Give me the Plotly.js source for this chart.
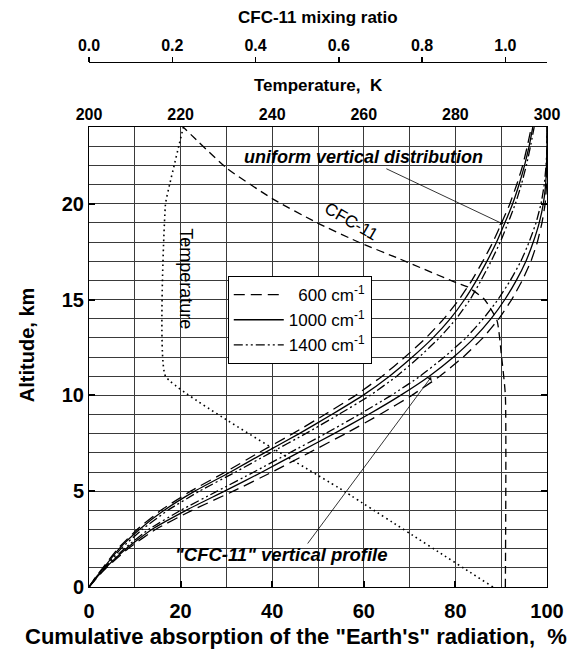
<!DOCTYPE html>
<html>
<head>
<meta charset="utf-8">
<script src="https://cdn.plot.ly/plotly-3.0.1.min.js"></script>
<style>html,body{margin:0;padding:0;background:#fff;}#chart{width:586px;height:657px;}</style>
</head>
<body>
<div id="chart"></div>
<script>
// Altitude grid (km)
const altitude = [0,0.5,1,2,3,4,5,6,7,8,9,10,11,12,13,14,15,16,17,18,19,20,21,22,23,24];
// Cumulative absorption (%) - uniform vertical distribution
const uniform600  = [0,1.4,3,6.3,10.5,15.7,22.2,29.8,37,44.5,51.5,58.2,64,69,73.6,77.5,80.8,83.6,86,88.2,90.1,91.9,93.4,94.7,95.7,96.6];
const uniform1000 = [0,1.5,3.2,6.6,11,16.4,23.1,30.9,38.3,45.9,53,59.8,65.6,70.6,75.1,78.9,82,84.6,86.9,89,90.8,92.5,93.9,95.1,96.1,96.9];
const uniform1400 = [0,1.6,3.4,7,11.6,17.2,24.1,32,39.6,47.3,54.5,61.4,67.2,72.1,76.5,80.2,83.2,85.6,87.8,89.8,91.5,93.1,94.4,95.5,96.4,97.2];
// Cumulative absorption (%) - "CFC-11" vertical profile
const profile600  = [0,1.8,3.8,8.5,14.5,22.5,31.5,40,48,56,63.5,70.5,76.6,81.7,86,89.5,92.3,94.6,96.5,97.9,98.9,99.6,99.9,100,100,100];
const profile1000 = [0,1.7,3.6,8.1,13.7,21.2,29.6,37.8,45.6,53.5,61,68,74.3,79.6,84.1,87.8,90.8,93.3,95.4,97,98.3,99.2,99.7,99.9,100,100];
const profile1400 = [0,1.6,3.5,7.7,13,20,28,36,43.8,51.6,59,66,72.3,77.6,82.3,86.1,89.3,92,94.3,96.1,97.6,98.7,99.4,99.8,100,100];
// Temperature profile
const tempAlt = [0,5,11,20,21,22,23,24];
const tempK   = [288.2,255.7,216.7,216.7,217.6,218.6,219.6,220.6];
// CFC-11 mixing ratio profile
const cfcAlt   = [0,10,12.2,13.9,15,15.65,15.86,17.11,17.96,19.0,20.24,21.85,24];
const cfcRatio = [1.0,1.0,0.99,0.98,0.95,0.91,0.884,0.747,0.651,0.548,0.442,0.331,0.226];
// Labels
const legendNames = ['\u2007600 cm<sup>-1</sup>','1000 cm<sup>-1</sup>','1400 cm<sup>-1</sup>'];

const F = 'Liberation Sans, Arial, sans-serif';
const dashes = ['11px,6px', 'solid', '9px,3px,2px,3px,2px,3px'];
const lw = 1.3;

function curve(x, i, show) {
  return {x: x, y: altitude, type: 'scatter', mode: 'lines', name: legendNames[i],
    showlegend: show, legendrank: i + 1, hoverinfo: 'skip',
    line: {color: '#000', width: lw, dash: dashes[i], shape: 'spline', smoothing: 0.4}};
}

const traces = [
  curve(uniform600, 0, true), curve(uniform1000, 1, true), curve(uniform1400, 2, true),
  curve(profile600, 0, false), curve(profile1000, 1, false), curve(profile1400, 2, false),
  {x: tempK, y: tempAlt, xaxis: 'x2', yaxis: 'y', type: 'scatter', mode: 'lines', showlegend: false,
   hoverinfo: 'skip', line: {color: '#000', width: 1.6, dash: '1.6px,3.4px', shape: 'spline', smoothing: 0.3}},
  {x: cfcRatio, y: cfcAlt, xaxis: 'x3', yaxis: 'y', type: 'scatter', mode: 'lines', showlegend: false,
   hoverinfo: 'skip', line: {color: '#000', width: 1.3, dash: '8px,5px', shape: 'spline', smoothing: 0.5}}
];

const gridC = '#3a3a3a';
const tickFont = {family: F, size: 20, color: '#000', weight: 700};
const topFont = {family: F, size: 16, color: '#000', weight: 700};

function ann(x, y, text, size, opts) {
  return Object.assign({xref: 'paper', yref: 'paper', x: x, y: y, text: text, showarrow: false,
    xanchor: 'center', yanchor: 'middle', font: {family: F, size: size, color: '#000', weight: 700}}, opts || {});
}

const layout = {
  width: 586, height: 657,
  margin: {l: 89, r: 39, t: 50, b: 70},
  paper_bgcolor: '#fff', plot_bgcolor: '#fff',
  showlegend: true,
  legend: {x: 0.303, y: 0.579, xanchor: 'left', yanchor: 'top', bgcolor: '#fff',
    bordercolor: '#000', borderwidth: 1, font: {family: F, size: 17, color: '#000'},
    itemwidth: 50, traceorder: 'normal', tracegroupgap: 0},
  xaxis: {range: [0, 100], dtick: 20, tick0: 0, showgrid: true, gridcolor: gridC, gridwidth: 1,
    minor: {dtick: 10, showgrid: true, gridcolor: gridC, gridwidth: 1, ticks: ''},
    ticks: 'inside', ticklen: 6, tickwidth: 2, tickcolor: '#000', ticklabelstandoff: 6,
    showline: true, linecolor: '#000', linewidth: 1, mirror: true, zeroline: false,
    tickfont: tickFont, fixedrange: true},
  xaxis2: {overlaying: 'x', side: 'top', anchor: 'y', range: [200, 300], dtick: 20, tick0: 200,
    showgrid: false, ticks: '', showline: true, linecolor: '#000', zeroline: false,
    tickfont: topFont, fixedrange: true},
  xaxis3: {overlaying: 'x', side: 'top', anchor: 'free', position: 0.9777, range: [0, 1.1],
    dtick: 0.2, tick0: 0, tickformat: '.1f', showgrid: false, ticks: 'outside', ticklen: 5,
    tickwidth: 1.5, tickcolor: '#000', showline: true, linecolor: '#000', linewidth: 1.5, zeroline: false,
    tickfont: topFont, fixedrange: true},
  yaxis: {domain: [0, 0.8566], range: [0, 24], dtick: 5, tick0: 0, showgrid: true, gridcolor: gridC,
    minor: {dtick: 1, showgrid: true, gridcolor: gridC, gridwidth: 1, ticks: ''},
    ticks: 'inside', ticklen: 6, tickwidth: 2, tickcolor: '#000',
    showline: true, linecolor: '#000', linewidth: 1, mirror: 'ticks', zeroline: false,
    tickfont: tickFont, fixedrange: true},
  annotations: [
    ann(0.5, 1.0596, 'CFC-11 mixing ratio', 17),
    ann(0.5, 0.9330, 'Temperature,  K', 17),
    ann(0.452, -0.093, 'Cumulative absorption of the "Earth\'s" radiation,  %', 22),
    ann(-0.135, 0.4507, 'Altitude, km', 20, {textangle: -90}),
    {xref: 'x', yref: 'y', x: 60.0, y: 22.43, text: '<i>uniform vertical distribution</i>', showarrow: false,
     xanchor: 'center', yanchor: 'middle', font: {family: F, size: 18, color: '#000', weight: 700}},
    {xref: 'x', yref: 'y', x: 42.1, y: 1.72, text: '<i>"CFC-11" vertical profile</i>', showarrow: false,
     xanchor: 'center', yanchor: 'middle', font: {family: F, size: 18.5, color: '#000', weight: 700}},
    {xref: 'x', yref: 'y', x: 57.2, y: 19.05, text: 'CFC-11', textangle: 30, showarrow: false,
     xanchor: 'center', yanchor: 'middle', font: {family: F, size: 17, color: '#000'}},
    {xref: 'x', yref: 'y', x: 21.0, y: 16.1, text: 'Temperature', textangle: 90, showarrow: false,
     xanchor: 'center', yanchor: 'middle', font: {family: F, size: 18, color: '#000'}},
    {xref: 'x', yref: 'y', axref: 'x', ayref: 'y', x: 90.4, y: 18.94, ax: 64.6, ay: 21.86, text: '',
     showarrow: true, arrowhead: 1, arrowsize: 1.2, arrowwidth: 0.8, arrowcolor: '#000', standoff: 0},
    {xref: 'x', yref: 'y', axref: 'x', ayref: 'y', x: 74.7, y: 10.95, ax: 47.5, ay: 2.19, text: '',
     showarrow: true, arrowhead: 1, arrowsize: 1.2, arrowwidth: 0.8, arrowcolor: '#000', standoff: 0}
  ]
};

Plotly.newPlot('chart', traces, layout, {displayModeBar: false, staticPlot: true});
</script>
</body>
</html>
